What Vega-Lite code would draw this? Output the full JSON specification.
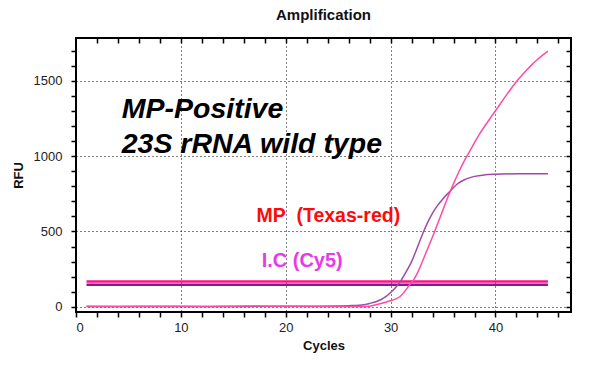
{
  "$schema": "https://vega.github.io/schema/vega-lite/v6.json",
  "width": 495,
  "height": 274,
  "autosize": "none",
  "padding": {"left": 76, "top": 38, "right": 19, "bottom": 57},
  "background": "white",
  "config": {
    "font": "Liberation Sans",
    "view": {"stroke": "black", "strokeWidth": 2},
    "axis": {"labelFont": "Liberation Sans", "titleFont": "Liberation Sans"}
  },
  "title": {"text": "Amplification", "fontSize": 15, "fontWeight": "bold", "font": "Liberation Sans", "offset": 14, "color": "#111"},
  "datasets": {
    "curves": [
      {"s": "IC", "cycle": 1, "rfu": 1}, {"s": "IC", "cycle": 5, "rfu": 2}, {"s": "IC", "cycle": 10, "rfu": 1}, {"s": "IC", "cycle": 15, "rfu": 2}, {"s": "IC", "cycle": 20, "rfu": 3}, {"s": "IC", "cycle": 23, "rfu": 4}, {"s": "IC", "cycle": 25, "rfu": 5}, {"s": "IC", "cycle": 26, "rfu": 7}, {"s": "IC", "cycle": 27, "rfu": 10}, {"s": "IC", "cycle": 28, "rfu": 22}, {"s": "IC", "cycle": 29, "rfu": 45}, {"s": "IC", "cycle": 29.5, "rfu": 65}, {"s": "IC", "cycle": 30, "rfu": 95}, {"s": "IC", "cycle": 30.5, "rfu": 130}, {"s": "IC", "cycle": 31, "rfu": 175}, {"s": "IC", "cycle": 31.5, "rfu": 235}, {"s": "IC", "cycle": 32, "rfu": 300}, {"s": "IC", "cycle": 32.5, "rfu": 385}, {"s": "IC", "cycle": 33, "rfu": 475}, {"s": "IC", "cycle": 33.5, "rfu": 555}, {"s": "IC", "cycle": 34, "rfu": 622}, {"s": "IC", "cycle": 34.5, "rfu": 675}, {"s": "IC", "cycle": 35, "rfu": 718}, {"s": "IC", "cycle": 35.5, "rfu": 755}, {"s": "IC", "cycle": 36, "rfu": 792}, {"s": "IC", "cycle": 36.5, "rfu": 822}, {"s": "IC", "cycle": 37, "rfu": 842}, {"s": "IC", "cycle": 37.5, "rfu": 856}, {"s": "IC", "cycle": 38, "rfu": 866}, {"s": "IC", "cycle": 39, "rfu": 876}, {"s": "IC", "cycle": 40, "rfu": 880}, {"s": "IC", "cycle": 42, "rfu": 883}, {"s": "IC", "cycle": 45, "rfu": 884},
      {"s": "MP", "cycle": 1, "rfu": 3}, {"s": "MP", "cycle": 4, "rfu": 2}, {"s": "MP", "cycle": 8, "rfu": 4}, {"s": "MP", "cycle": 12, "rfu": 2}, {"s": "MP", "cycle": 16, "rfu": 5}, {"s": "MP", "cycle": 20, "rfu": 3}, {"s": "MP", "cycle": 24, "rfu": 2}, {"s": "MP", "cycle": 27.7, "rfu": 2}, {"s": "MP", "cycle": 29, "rfu": 20}, {"s": "MP", "cycle": 29.9, "rfu": 38}, {"s": "MP", "cycle": 30.5, "rfu": 52}, {"s": "MP", "cycle": 30.9, "rfu": 68}, {"s": "MP", "cycle": 31.3, "rfu": 98}, {"s": "MP", "cycle": 31.8, "rfu": 144}, {"s": "MP", "cycle": 32.2, "rfu": 180}, {"s": "MP", "cycle": 32.6, "rfu": 230}, {"s": "MP", "cycle": 33, "rfu": 295}, {"s": "MP", "cycle": 33.5, "rfu": 380}, {"s": "MP", "cycle": 34, "rfu": 465}, {"s": "MP", "cycle": 34.5, "rfu": 555}, {"s": "MP", "cycle": 35, "rfu": 645}, {"s": "MP", "cycle": 35.5, "rfu": 735}, {"s": "MP", "cycle": 36, "rfu": 818}, {"s": "MP", "cycle": 36.5, "rfu": 895}, {"s": "MP", "cycle": 37, "rfu": 965}, {"s": "MP", "cycle": 37.6, "rfu": 1040}, {"s": "MP", "cycle": 38, "rfu": 1090}, {"s": "MP", "cycle": 38.5, "rfu": 1150}, {"s": "MP", "cycle": 39, "rfu": 1202}, {"s": "MP", "cycle": 39.5, "rfu": 1252}, {"s": "MP", "cycle": 40, "rfu": 1302}, {"s": "MP", "cycle": 40.5, "rfu": 1352}, {"s": "MP", "cycle": 41, "rfu": 1402}, {"s": "MP", "cycle": 41.5, "rfu": 1450}, {"s": "MP", "cycle": 42, "rfu": 1496}, {"s": "MP", "cycle": 42.5, "rfu": 1536}, {"s": "MP", "cycle": 43, "rfu": 1574}, {"s": "MP", "cycle": 43.5, "rfu": 1610}, {"s": "MP", "cycle": 44, "rfu": 1642}, {"s": "MP", "cycle": 44.5, "rfu": 1671}, {"s": "MP", "cycle": 45, "rfu": 1698}
    ],
    "thresholds": [
      {"s": "IC thr", "cycle": 1, "rfu": 146}, {"s": "IC thr", "cycle": 45, "rfu": 146},
      {"s": "MP thr", "cycle": 1, "rfu": 167}, {"s": "MP thr", "cycle": 45, "rfu": 167}
    ],
    "notes": [
      {"text": "MP-Positive", "cycle": 4.36, "rfu": 1252},
      {"text": "23S rRNA wild type", "cycle": 4.36, "rfu": 1018}
    ],
    "mplabel": [
      {"text": "MP\u00a0 (Texas-red)", "cycle": 17.2, "rfu": 564}
    ],
    "iclabel": [
      {"text": "I.C (Cy5)", "cycle": 17.7, "rfu": 265}
    ]
  },
  "resolve": {"axis": {"x": "independent", "y": "independent"}},
  "layer": [
    {
      "data": {"name": "thresholds"},
      "mark": {"type": "line", "strokeWidth": 2.5, "clip": true},
      "encoding": {
        "x": {"field": "cycle", "type": "quantitative", "scale": {"domain": [0, 47.2], "nice": false, "zero": false},
          "axis": {"orient": "bottom", "title": "Cycles", "titleFontSize": 13, "titleFontWeight": "bold", "titleColor": "#111", "titlePadding": 5,
            "values": [0,2,4,6,8,10,12,14,16,18,20,22,24,26,28,30,32,34,36,38,40,42,44,46],
            "labelExpr": "datum.value % 10 === 0 ? datum.label : ''",
            "labelFontSize": 13, "labelColor": "#222", "labelPadding": 4,
            "tickColor": "black", "tickSize": 5, "tickWidth": 1.5, "domain": false,
            "grid": true, "gridColor": "black", "gridDash": [1, 3], "gridWidth": 1,
            "gridOpacity": {"condition": {"test": "datum.value % 10 === 0 && datum.value > 0", "value": 1}, "value": 0}}},
        "y": {"field": "rfu", "type": "quantitative", "scale": {"domain": [-35, 1785], "nice": false, "zero": false},
          "axis": {"orient": "left", "title": "RFU", "titleFontSize": 13, "titleFontWeight": "bold", "titleColor": "#111", "titlePadding": 8,
            "values": [0,100,200,300,400,500,600,700,800,900,1000,1100,1200,1300,1400,1500,1600,1700],
            "labelExpr": "datum.value % 500 === 0 ? datum.label : ''",
            "format": "d",
            "labelFontSize": 13, "labelColor": "#222", "labelPadding": 9,
            "tickColor": "black", "tickSize": 5, "tickWidth": 1.5, "domain": false,
            "grid": true, "gridColor": "black", "gridDash": [1, 3], "gridWidth": 1,
            "gridOpacity": {"condition": {"test": "datum.value % 500 === 0", "value": 1}, "value": 0}}},
        "color": {"field": "s", "type": "nominal", "legend": null,
          "scale": {"domain": ["IC thr", "MP thr", "IC", "MP"], "range": ["#8b1a88", "#ff108c", "#a04aa8", "#ff4aa8"]}}
      }
    },
    {
      "data": {"name": "curves"},
      "mark": {"type": "line", "strokeWidth": 1.5, "interpolate": "monotone", "clip": true},
      "encoding": {
        "x": {"field": "cycle", "type": "quantitative",
          "axis": {"orient": "top", "title": null, "labels": false, "domain": false, "grid": false,
            "values": [2,4,6,8,10,12,14,16,18,20,22,24,26,28,30,32,34,36,38,40,42,44,46],
            "tickColor": "black", "tickSize": -5, "tickWidth": 1.5}},
        "y": {"field": "rfu", "type": "quantitative",
          "axis": {"orient": "right", "title": null, "labels": false, "domain": false, "grid": false,
            "values": [0,100,200,300,400,500,600,700,800,900,1000,1100,1200,1300,1400,1500,1600,1700],
            "tickColor": "black", "tickSize": -5, "tickWidth": 1.5}},
        "color": {"field": "s", "type": "nominal", "legend": null}
      }
    },
    {
      "data": {"name": "notes"},
      "mark": {"type": "text", "align": "left", "baseline": "alphabetic", "font": "Liberation Sans", "fontSize": 28.5, "fontWeight": "bold", "fontStyle": "italic", "color": "black"},
      "encoding": {
        "x": {"field": "cycle", "type": "quantitative", "axis": null},
        "y": {"field": "rfu", "type": "quantitative", "axis": null},
        "text": {"field": "text"}
      }
    },
    {
      "data": {"name": "mplabel"},
      "mark": {"type": "text", "align": "left", "baseline": "alphabetic", "font": "Liberation Sans", "fontSize": 19.5, "fontWeight": "bold", "color": "#ff0a0a"},
      "encoding": {
        "x": {"field": "cycle", "type": "quantitative", "axis": null},
        "y": {"field": "rfu", "type": "quantitative", "axis": null},
        "text": {"field": "text"}
      }
    },
    {
      "data": {"name": "iclabel"},
      "mark": {"type": "text", "align": "left", "baseline": "alphabetic", "font": "Liberation Sans", "fontSize": 20, "fontWeight": "bold", "color": "#e63ce6"},
      "encoding": {
        "x": {"field": "cycle", "type": "quantitative", "axis": null},
        "y": {"field": "rfu", "type": "quantitative", "axis": null},
        "text": {"field": "text"}
      }
    }
  ]
}
